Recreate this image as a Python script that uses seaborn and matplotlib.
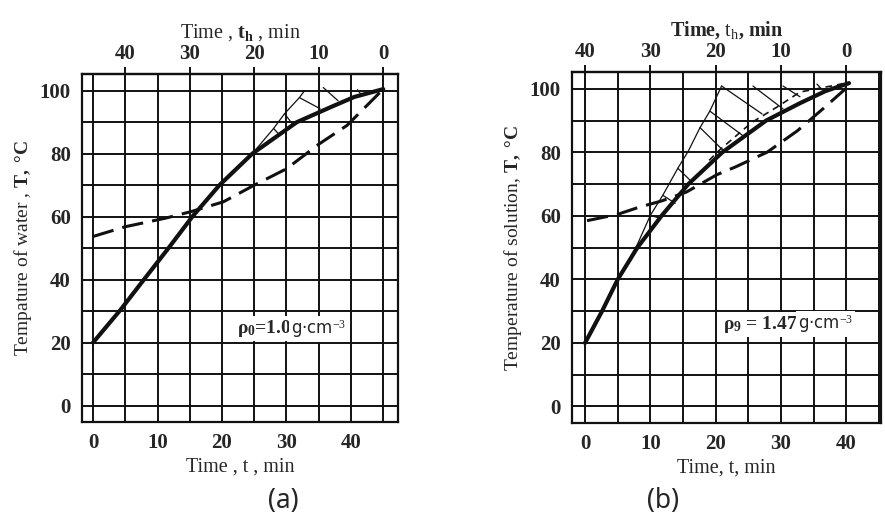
import numpy as np
import pandas as pd
import matplotlib
matplotlib.use("Agg")
from matplotlib import pyplot as plt
import seaborn as sns

# ---- (a) water, rho0 = 1.0 g/cm3 ----
water_t = [0, 4.3, 8.0, 11.7, 15.4, 19.6, 24.7, 31.6, 37.1, 40.5, 45]
water_T = [20, 30.5, 40.3, 50, 60, 70, 80, 90, 95, 98, 100.5]
water_dash_t = [0, 5, 11.2, 15.2, 20.2, 25, 30, 35, 39.4, 45]
water_dash_T = [53.7, 56.8, 59.5, 61.6, 64.7, 70, 75.2, 83, 89, 100.5]
water_edge_t = [24.7, 28, 29.7, 32, 32.8]
water_edge_T = [80, 88, 92.7, 97.8, 100]
water_rung_t0 = [28, 29.7, 32, 35.7, 41]
water_rung_T0 = [88, 92.7, 97.8, 101, 100.3]
water_rung_t1 = [28.9, 31.0, 35.2, 38, 41.5]
water_rung_T1 = [86.0, 89.2, 94.3, 96.8, 99]

# ---- (b) solution, rho9 = 1.47 g/cm3 ----
sol_t = [0, 2.6, 5, 8.0, 11.7, 15.8, 21, 27.7, 32.9, 36.8, 40.4]
sol_T = [20, 30, 40, 50, 60, 70, 80, 90, 95.5, 99.3, 101.8]
sol_dash_t = [0.3, 5, 8.2, 11.7, 15.5, 20.2, 23, 27.9, 32.5, 36.4, 40.4]
sol_dash_T = [58.5, 60.5, 62.7, 64.7, 67.5, 73, 75.4, 80.1, 86.8, 93.7, 101]
sol_thin_t = [19.0, 20.5, 25.5, 29.4, 32.9, 40.4]
sol_thin_T = [77.5, 80.6, 89.4, 94.3, 99, 102]
sol_edge_t = [5, 8.0, 10.0, 11.9, 14.2, 15.8, 17.6, 19.1, 20.9]
sol_edge_T = [40, 51, 60.2, 66.5, 75, 80.4, 87.8, 93, 100.9]
sol_rung_t0 = [20.9, 25.7, 30.3, 35.5, 19.1, 17.6, 14.2, 11.9, 10.0]
sol_rung_T0 = [100.9, 100.9, 100.9, 101.5, 93, 87.8, 75, 66.5, 60.2]
sol_rung_t1 = [27.1, 30.3, 32.9, 36.3, 24.2, 21.4, 16.3, 13.8, 11.4]
sol_rung_T1 = [92.1, 93.7, 97.5, 99.7, 85.2, 80.1, 70.8, 64, 59.3]

x_ticks = [0, 10, 20, 30, 40]
x_minor = [5, 15, 25, 35, 45]
y_ticks = [0, 20, 40, 60, 80, 100]
y_minor = [10, 30, 50, 70, 90]
top_ticks = [40, 30, 20, 10, 0]

INK = "#111111"

sns.set_theme(style="white")
plt.rcParams["font.family"] = ["Liberation Serif", "DejaVu Serif"]
plt.rcParams["mathtext.fontset"] = "custom"
plt.rcParams["mathtext.rm"] = "Liberation Serif"
plt.rcParams["mathtext.it"] = "Liberation Serif:italic"
plt.rcParams["mathtext.bf"] = "Liberation Serif:bold"

fig = plt.figure(figsize=(8.85, 5.16), dpi=100)
ax_a = fig.add_axes([0.0927, 0.1822, 0.3571, 0.6744])
ax_b = fig.add_axes([0.6463, 0.1802, 0.3492, 0.6802])


def draw_panel(ax, t, T, dt, dT, edge_t, edge_T, r_t0, r_T0, r_t1, r_T1, xlim, th_zero):
    df = pd.DataFrame({"t": t, "T": T})
    dd = pd.DataFrame({"t": dt, "T": dT})
    de = pd.DataFrame({"t": edge_t, "T": edge_T})
    sns.lineplot(data=de, x="t", y="T", ax=ax, sort=False, estimator=None,
                 color=INK, lw=0.9, zorder=3)
    for a, b, c, d in zip(r_t0, r_T0, r_t1, r_T1):
        ax.plot([a, c], [b, d], color=INK, lw=0.9, zorder=3)
    sns.lineplot(data=dd, x="t", y="T", ax=ax, sort=False, estimator=None,
                 color=INK, lw=2.2, linestyle=(0, (7, 3)), zorder=4)
    sns.lineplot(data=df, x="t", y="T", ax=ax, sort=False, estimator=None,
                 color=INK, lw=3.0, zorder=5)

    ax.set_xlim(*xlim)
    ax.set_ylim(-5.2, 105.3)
    ax.set_xticks(x_ticks)
    ax.set_xticks(x_minor, minor=True)
    ax.set_yticks(y_ticks)
    ax.set_yticks(y_minor, minor=True)
    ax.grid(True, which="both", color=INK, lw=1.4)
    for s in ax.spines.values():
        s.set_color(INK)
        s.set_linewidth(1.6)
    ax.tick_params(which="major", direction="out", length=5, width=1.4,
                   color=INK, labelsize=15, pad=3)
    ax.tick_params(which="minor", length=0)
    for lab in ax.get_xticklabels() + ax.get_yticklabels():
        lab.set_fontweight("bold")

    top = ax.secondary_xaxis("top", functions=(lambda x: th_zero - x,
                                               lambda x: th_zero - x))
    top.set_xticks(top_ticks)
    top.tick_params(direction="out", length=5, width=1.4, color=INK,
                    labelsize=15, pad=2)
    for lab in top.get_xticklabels():
        lab.set_fontweight("bold")
    top.spines["top"].set_linewidth(1.6)
    return top


top_a = draw_panel(ax_a, water_t, water_T, water_dash_t, water_dash_T,
                   water_edge_t, water_edge_T, water_rung_t0, water_rung_T0,
                   water_rung_t1, water_rung_T1, (-1.7, 47.3), 45)
top_b = draw_panel(ax_b, sol_t, sol_T, sol_dash_t, sol_dash_T,
                   sol_edge_t, sol_edge_T, sol_rung_t0, sol_rung_T0,
                   sol_rung_t1, sol_rung_T1, (-2.0, 45.3), 40)

# thin dashed line in (b)
sns.lineplot(x=sol_thin_t, y=sol_thin_T, ax=ax_b, sort=False, estimator=None,
             color=INK, lw=1.2, linestyle=(0, (4, 3)), zorder=4)

ax_a.set_xlabel("Time , t , min", fontsize=14.5, labelpad=3)
ax_a.set_ylabel(r"Tempature of water , $\mathbf{T,\ °C}$", fontsize=14, labelpad=4)
top_a.set_xlabel(r"Time , $\mathbf{t_h}$ , min", fontsize=14.5, labelpad=5)

ax_b.set_xlabel("Time, t, min", fontsize=14.5, labelpad=3)
ax_b.set_ylabel(r"Temperature of solution, $\mathbf{T,\ °C}$", fontsize=14, labelpad=4)
top_b.set_xlabel(r"Time, $\mathrm{t_h}$, min", fontsize=14.5, fontweight="bold", labelpad=5)

box = dict(facecolor="white", edgecolor="none", pad=1.5)
txt_a = ax_a.text(22.3, 24.4, r"$\mathbf{\rho_0}$=1.0", fontsize=14, fontweight="bold",
                  ha="left", va="center", bbox=box, zorder=6)
ax_a.annotate("g·cm$^{-3}$", xy=(1, 0.5), xycoords=txt_a, va="center", ha="left",
              fontsize=12, family=["DejaVu Sans"], bbox=box, zorder=6)
txt_b = ax_b.text(21.1, 25.9, r"$\mathbf{\rho_9}$ = 1.47 ", fontsize=14, fontweight="bold",
                  ha="left", va="center", bbox=box, zorder=6)
ax_b.annotate("g·cm$^{-3}$", xy=(1, 0.5), xycoords=txt_b, va="center", ha="left",
              fontsize=12, family=["DejaVu Sans"], bbox=box, zorder=6)

fig.text(0.32, 0.03, "(a)", fontsize=19, family=["Noto Sans", "DejaVu Sans"],
         ha="center", va="center")
fig.text(0.749, 0.03, "(b)", fontsize=19, family=["Noto Sans", "DejaVu Sans"],
         ha="center", va="center")

fig.savefig("out.png", dpi=100, facecolor="white")
